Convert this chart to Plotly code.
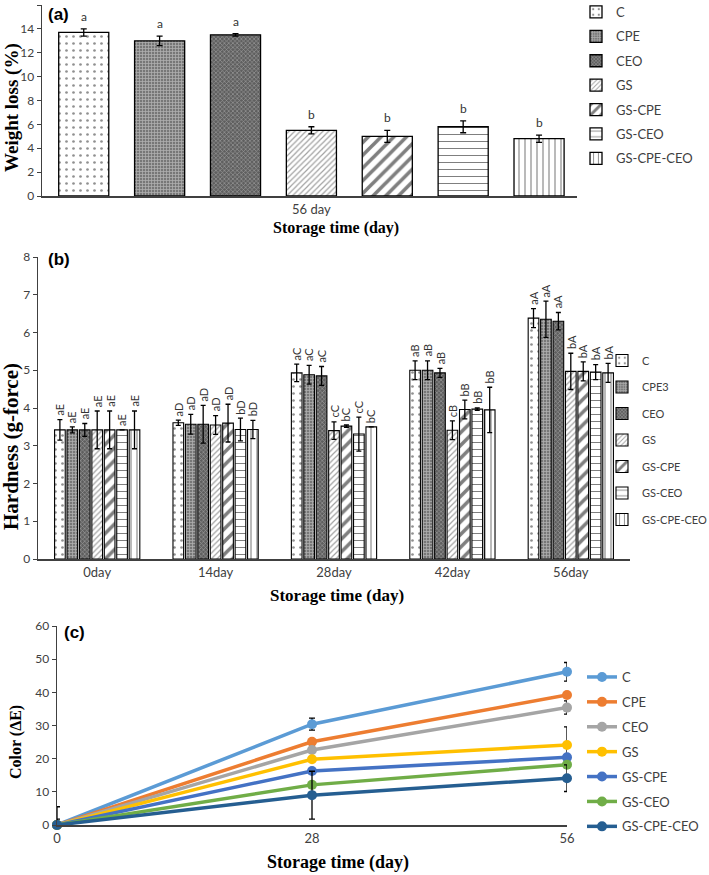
import plotly.graph_objects as go

W, H = 709, 875

# ---------------- data ----------------
treatments_a = ["C", "CPE", "CEO", "GS", "GS-CPE", "GS-CEO", "GS-CPE-CEO"]
weight_loss = [13.7, 13.0, 13.5, 5.5, 5.0, 5.8, 4.8]
weight_loss_err = [0.3, 0.4, 0.1, 0.3, 0.5, 0.5, 0.3]
weight_letters = ["a", "a", "a", "b", "b", "b", "b"]
day_label_a = "56 day"

treatments_b = ["C", "CPE3", "CEO", "GS", "GS-CPE", "GS-CEO", "GS-CPE-CEO"]
days_b = ["0day", "14day", "28day", "42day", "56day"]
hard_C = [3.42, 3.61, 4.93, 5.00, 6.38]
hard_CPE3 = [3.42, 3.57, 4.88, 5.00, 6.35]
hard_CEO = [3.42, 3.57, 4.85, 4.93, 6.30]
hard_GS = [3.42, 3.55, 3.40, 3.41, 4.97]
hard_GSCPE = [3.42, 3.60, 3.52, 3.96, 4.97]
hard_GSCEO = [3.42, 3.43, 3.31, 3.97, 4.95]
hard_GSCPECEO = [3.42, 3.43, 3.50, 3.95, 4.93]
err_C = [0.27, 0.07, 0.23, 0.25, 0.25]
err_CPE3 = [0.08, 0.26, 0.25, 0.25, 0.48]
err_CEO = [0.17, 0.50, 0.25, 0.12, 0.23]
err_GS = [0.50, 0.25, 0.23, 0.25, 0.48]
err_GSCPE = [0.50, 0.50, 0.03, 0.25, 0.25]
err_GSCEO = [0.00, 0.30, 0.45, 0.03, 0.20]
err_GSCPECEO = [0.50, 0.24, 0.00, 0.60, 0.25]
let_C = ["aE", "aD", "aC", "aB", "aA"]
let_CPE3 = ["aE", "aD", "aC", "aB", "aA"]
let_CEO = ["aE", "aD", "aC", "aB", "aA"]
let_GS = ["aE", "aD", "cC", "cB", "bA"]
let_GSCPE = ["aE", "aD", "bC", "bB", "bA"]
let_GSCEO = ["aE", "bD", "cC", "bB", "bA"]
let_GSCPECEO = ["aE", "bD", "bC", "bB", "bA"]

treatments_c = ["C", "CPE", "CEO", "GS", "GS-CPE", "GS-CEO", "GS-CPE-CEO"]
days_c = [0, 28, 56]
color_C = [0, 30.4, 46.2]
color_CPE = [0, 25.1, 39.2]
color_CEO = [0, 22.6, 35.4]
color_GS = [0, 19.8, 24.1]
color_GSCPE = [0, 16.3, 20.4]
color_GSCEO = [0, 12.1, 18.2]
color_GSCPECEO = [0, 9.0, 14.1]
cerr_C = [1.8, 1.8, 2.8]
cerr_CPE = [0, 0, 0]
cerr_CEO = [0, 0, 2.0]
cerr_GS = [0, 0, 5.5]
cerr_GSCPE = [0, 0, 0]
cerr_GSCEO = [0, 0, 0]
cerr_GSCPECEO = [5.5, 7.2, 4.0]

# ---------------- styles ----------------
patterns = [
    dict(shape=".", fgcolor="#222222", bgcolor="white", size=7, solidity=0.12),
    dict(shape="+", fgcolor="#e6e6e6", bgcolor="#777777", size=3, solidity=0.45),
    dict(shape="x", fgcolor="#d0d0d0", bgcolor="#5f5f5f", size=3, solidity=0.4),
    dict(shape="/", fgcolor="#444444", bgcolor="white", size=4, solidity=0.3),
    dict(shape="/", fgcolor="black", bgcolor="white", size=9, solidity=0.4),
    dict(shape="-", fgcolor="black", bgcolor="white", size=7, solidity=0.15),
    dict(shape="|", fgcolor="black", bgcolor="white", size=6, solidity=0.18),
]
line_colors = ["#5B9BD5", "#ED7D31", "#A5A5A5", "#FFC000", "#4472C4", "#70AD47", "#255E91"]

TICK_FONT = dict(family="Lato, Liberation Sans, sans-serif", size=12, color="#404040")
TITLE_FONT = "Liberation Serif, Times New Roman, serif"
AX = "#404040"


def px_x(p):
    return p / W


def px_y(p):
    return 1 - p / H


fig = go.Figure()
annotations = []

# ---------------- panel (a) ----------------
for i, name in enumerate(treatments_a):
    fig.add_trace(go.Bar(
        x=[i], y=[weight_loss[i]], width=0.66, name=name,
        marker=dict(color=patterns[i]["bgcolor"], pattern=patterns[i],
                    line=dict(color="black", width=1.3)),
        error_y=dict(type="data", array=[weight_loss_err[i]], color="black",
                     thickness=1.3, width=3),
        xaxis="x", yaxis="y", legend="legend", legendgroup="a" + name,
    ))
    annotations.append(dict(
        x=i, y=weight_loss[i] + weight_loss_err[i], xref="x", yref="y",
        text=weight_letters[i], showarrow=False, yanchor="bottom", yshift=3,
        font=dict(family="Lato, sans-serif", size=12, color="#333333")))

# ---------------- panel (b) ----------------
hard_vals = [hard_C, hard_CPE3, hard_CEO, hard_GS, hard_GSCPE, hard_GSCEO, hard_GSCPECEO]
hard_errs = [err_C, err_CPE3, err_CEO, err_GS, err_GSCPE, err_GSCEO, err_GSCPECEO]
hard_lets = [let_C, let_CPE3, let_CEO, let_GS, let_GSCPE, let_GSCEO, let_GSCPECEO]
step = 0.105
for j, name in enumerate(treatments_b):
    xs = [g + (j - 3) * step for g in range(len(days_b))]
    fig.add_trace(go.Bar(
        x=xs, y=hard_vals[j], width=0.09, name=name,
        marker=dict(color=patterns[j]["bgcolor"], pattern=patterns[j],
                    line=dict(color="black", width=1.1)),
        error_y=dict(type="data", array=hard_errs[j], color="black",
                     thickness=1.3, width=2.5),
        xaxis="x2", yaxis="y2", legend="legend2", legendgroup="b" + name,
    ))
    for k in range(len(days_b)):
        annotations.append(dict(
            x=xs[k], y=hard_vals[j][k] + hard_errs[j][k], xref="x2", yref="y2",
            text=hard_lets[j][k], showarrow=False, textangle=-90,
            xanchor="center", yanchor="bottom", yshift=2,
            font=dict(family="Lato, sans-serif", size=11, color="#333333")))

# ---------------- panel (c) ----------------
color_vals = [color_C, color_CPE, color_CEO, color_GS, color_GSCPE, color_GSCEO, color_GSCPECEO]
color_errs = [cerr_C, cerr_CPE, cerr_CEO, cerr_GS, cerr_GSCPE, cerr_GSCEO, cerr_GSCPECEO]
for j, name in enumerate(treatments_c):
    fig.add_trace(go.Scatter(
        x=days_c, y=color_vals[j], name=name, mode="lines+markers",
        line=dict(color=line_colors[j], width=3.5),
        marker=dict(color=line_colors[j], size=10),
        error_y=dict(type="data", array=color_errs[j], color="black",
                     thickness=1.3, width=3),
        cliponaxis=False,
        xaxis="x3", yaxis="y3", legend="legend3", legendgroup="c" + name,
    ))

# ---------------- text annotations ----------------
def title_ann(x, y, text, size, angle=0):
    return dict(x=px_x(x), y=px_y(y), xref="paper", yref="paper", text=text,
                showarrow=False, textangle=angle, xanchor="center", yanchor="middle",
                font=dict(family=TITLE_FONT, size=size, color="black"))


annotations += [
    title_ann(336, 228, "<b>Storage time (day)</b>", 16),
    title_ann(12, 108, "<b>Weight loss (%)</b>", 19, -90),
    title_ann(337, 595, "<b>Storage time (day)</b>", 17),
    title_ann(11, 447, "<b>Hardness (g-force)</b>", 21, -90),
    title_ann(16, 742, "<b>Color (ΔE)</b>", 16, -90),
    title_ann(338, 862, "<b>Storage time (day)</b>", 18),
]
for lbl, (lx, ly) in zip(["(a)", "(b)", "(c)"], [(58, 14), (59, 259), (74, 632)]):
    annotations.append(dict(x=px_x(lx), y=px_y(ly), xref="paper", yref="paper",
                            text="<b>" + lbl + "</b>", showarrow=False,
                            xanchor="center", yanchor="middle",
                            font=dict(family="Liberation Sans, Arial, sans-serif",
                                      size=17, color="black")))


def yax(domain, rng, dtick, anchor):
    return dict(domain=domain, range=rng, dtick=dtick, anchor=anchor,
                showline=True, linecolor=AX, linewidth=1.5, ticks="outside",
                ticklen=4, tickcolor=AX, showgrid=False, zeroline=False,
                tickfont=TICK_FONT, fixedrange=True, automargin=False)


def xax(domain, rng, tickvals, ticktext, anchor):
    return dict(domain=domain, range=rng, tickvals=tickvals, ticktext=ticktext,
                anchor=anchor, showline=True, linecolor=AX, linewidth=2,
                ticks="", showgrid=False, zeroline=False,
                tickfont=dict(TICK_FONT, size=13), fixedrange=True, automargin=False)


def legend_font(size):
    return dict(family="Lato, Liberation Sans, sans-serif", size=size, color="#404040")


fig.update_layout(
    width=W, height=H,
    margin=dict(l=0, r=0, t=0, b=0, autoexpand=False),
    paper_bgcolor="white", plot_bgcolor="white",
    barmode="overlay", showlegend=True,
    xaxis=xax([px_x(42), px_x(577)], [-0.55, 6.5], [3], [day_label_a], "y"),
    yaxis=yax([px_y(196), px_y(5)], [0, 16], 2, "x"),
    xaxis2=xax([px_x(38), px_x(630)], [-0.5, 4.5], list(range(len(days_b))), days_b, "y2"),
    yaxis2=yax([px_y(559), px_y(257)], [0, 8], 1, "x2"),
    xaxis3=xax([px_x(57), px_x(567)], [0, 56], days_c, [str(d) for d in days_c], "y3"),
    yaxis3=yax([px_y(825), px_y(626)], [0, 60], 10, "x3"),
    legend=dict(x=px_x(576), y=px_y(-3), xanchor="left", yanchor="top",
                font=legend_font(13), tracegroupgap=4.5, bgcolor="rgba(0,0,0,0)"),
    legend2=dict(x=px_x(602), y=px_y(346), xanchor="left", yanchor="top",
                 font=legend_font(11), tracegroupgap=7.5, bgcolor="rgba(0,0,0,0)"),
    legend3=dict(x=px_x(582), y=px_y(662), xanchor="left", yanchor="top",
                 font=legend_font(13), tracegroupgap=5, bgcolor="rgba(0,0,0,0)",
                 itemwidth=30),
    annotations=annotations,
)

fig.write_html(
    "out.html",
    config={"displayModeBar": False, "staticPlot": True},
    post_script="document.body.style.margin='0px';document.body.style.padding='0px';"
                "document.documentElement.style.overflow='hidden';",
)
